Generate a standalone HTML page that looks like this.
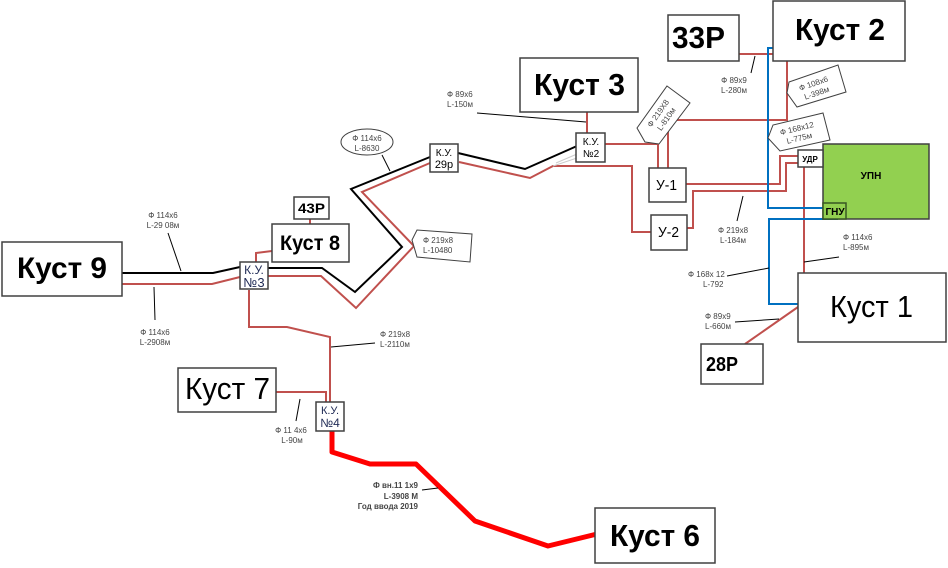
<!DOCTYPE html>
<html><head><meta charset="utf-8"><style>
html,body{margin:0;padding:0;background:#fff;}
svg{display:block;}
text{font-family:"Liberation Sans","DejaVu Sans",sans-serif;}
.s{font-size:8px;fill:#444;}
.b{fill:#fff;stroke:#404040;stroke-width:1.5;}
.r{fill:none;stroke:#c0504d;stroke-width:2;}
.k{fill:none;stroke:#000;stroke-width:2;}
.bl{fill:none;stroke:#0070c0;stroke-width:2;}
.l{fill:none;stroke:#000;stroke-width:1;}
</style></head><body>
<svg width="948" height="568" viewBox="0 0 948 568" xmlns="http://www.w3.org/2000/svg">
<!-- red lines -->
<polyline class="r" points="739,54 773,54"/>
<polyline class="r" points="787,61 787,120 668,120 668,168"/>
<polyline class="r" points="605,144 658,144 658,168"/>
<polyline class="r" points="587,112 587,133"/>
<polyline class="r" points="459,162 530,178 553,166 632,166 632,232 651,232"/>
<polyline class="r" points="430,163 362,192 414,246 356,308 321,276 268,276"/>
<polyline class="r" points="240,277 212,284 122,284"/>
<polyline class="r" points="272,251 256,253 256,262"/>
<polyline class="r" points="310,219 310,224"/>
<polyline class="r" points="249,290 249,327 287,327 330,337 330,402"/>
<polyline class="r" points="276,392 326,392 326,402"/>
<polyline class="r" points="686,184 780,184 780,156 798,156"/>
<polyline class="r" points="687,228 693,228 693,191 786,191 786,163 798,163"/>
<polyline class="r" points="804,167 804,273"/>
<polyline class="r" points="798,307 745,344"/>
<!-- faint -->
<polyline fill="none" stroke="#ccc" stroke-width="1" points="553,166 577,158"/>
<polyline fill="none" stroke="#ccc" stroke-width="1" points="556,163 577,154"/>
<!-- black lines -->
<polyline class="k" points="122,273 213,273 240,267"/>
<polyline class="k" points="268,268 322,268 355,292 402,247 351,189 430,157"/>
<polyline class="k" points="458,153 525,169 577,146"/>
<!-- blue -->
<polyline class="bl" points="774,48 768,48 768,208 823,208"/>
<polyline class="bl" points="838,219 769,219 769,304 798,304"/>
<!-- thick red -->
<polyline fill="none" stroke="#ff0000" stroke-width="5" stroke-linejoin="round" points="332,431 332,452 370,464 416,464 475,521 548,546 597,534"/>
<!-- leaders -->
<line class="l" x1="755" y1="56" x2="751" y2="73"/>
<line class="l" x1="477" y1="113" x2="586" y2="122"/>
<line class="l" x1="382" y1="155" x2="390" y2="171"/>
<line class="l" x1="168" y1="233" x2="181" y2="271"/>
<line class="l" x1="154" y1="287" x2="155" y2="320"/>
<line class="l" x1="331" y1="347" x2="375" y2="343"/>
<line class="l" x1="300" y1="399" x2="296" y2="421"/>
<line class="l" x1="422" y1="490" x2="438" y2="488"/>
<line class="l" x1="743" y1="196" x2="737" y2="221"/>
<line class="l" x1="804" y1="262" x2="839" y2="257"/>
<line class="l" x1="727" y1="276" x2="769" y2="268"/>
<line class="l" x1="735" y1="322" x2="779" y2="319"/>

<!-- boxes -->
<rect class="b" x="668" y="15" width="71" height="46"/>
<text x="672" y="48" font-size="31" font-weight="bold" textLength="53" lengthAdjust="spacingAndGlyphs">33Р</text>
<rect class="b" x="773" y="1" width="132" height="60"/>
<text x="795" y="40" font-size="31" font-weight="bold" textLength="90" lengthAdjust="spacingAndGlyphs">Куст 2</text>
<rect class="b" x="520" y="58" width="118" height="54"/>
<text x="534" y="95" font-size="31" font-weight="bold" textLength="91" lengthAdjust="spacingAndGlyphs">Куст 3</text>
<rect class="b" x="576" y="133" width="29" height="29"/>
<text x="591" y="145" font-size="10" text-anchor="middle">К.У.</text>
<text x="591" y="157" font-size="10" text-anchor="middle">№2</text>
<rect class="b" x="430" y="144" width="28" height="28"/>
<text x="444" y="156" font-size="10" text-anchor="middle">К.У.</text>
<text x="444" y="168" font-size="11" text-anchor="middle">29р</text>
<rect class="b" x="649" y="168" width="37" height="34"/>
<text x="656" y="190" font-size="15" textLength="21" lengthAdjust="spacingAndGlyphs">У-1</text>
<rect class="b" x="651" y="215" width="36" height="35"/>
<text x="658" y="237" font-size="15" textLength="21" lengthAdjust="spacingAndGlyphs">У-2</text>
<rect x="823" y="144" width="106" height="75" fill="#92d050" stroke="#404040" stroke-width="1.5"/>
<text x="871" y="179" font-size="10" font-weight="bold" text-anchor="middle">УПН</text>
<rect x="823" y="203" width="23" height="16" fill="#92d050" stroke="#385723" stroke-width="1.5"/>
<text x="835" y="215" font-size="10" font-weight="bold" text-anchor="middle">ГНУ</text>
<rect class="b" x="798" y="150" width="25" height="17"/>
<text x="810" y="162" font-size="8" font-weight="bold" text-anchor="middle">УДР</text>
<rect class="b" x="2" y="242" width="120" height="54"/>
<text x="17" y="278" font-size="30" font-weight="bold" textLength="90" lengthAdjust="spacingAndGlyphs">Куст 9</text>
<rect class="b" x="240" y="262" width="28" height="27"/>
<text x="254" y="274" font-size="12" fill="#1f2a55" text-anchor="middle">К.У.</text>
<text x="254" y="287" font-size="13" fill="#1f2a55" text-anchor="middle">№3</text>
<rect class="b" x="294" y="197" width="35" height="22"/>
<text x="298" y="213" font-size="14" font-weight="bold" textLength="27" lengthAdjust="spacingAndGlyphs">43Р</text>
<rect class="b" x="272" y="224" width="77" height="38"/>
<text x="280" y="250" font-size="21" font-weight="bold" textLength="60" lengthAdjust="spacingAndGlyphs">Куст 8</text>
<rect class="b" x="178" y="368" width="98" height="44"/>
<text x="185" y="399" font-size="31" textLength="85" lengthAdjust="spacingAndGlyphs">Куст 7</text>
<rect class="b" x="316" y="402" width="28" height="29"/>
<text x="330" y="414" font-size="11" fill="#1f2a55" text-anchor="middle">К.У.</text>
<text x="330" y="427" font-size="12" fill="#1f2a55" text-anchor="middle">№4</text>
<rect class="b" x="595" y="508" width="120" height="55"/>
<text x="610" y="546" font-size="31" font-weight="bold" textLength="90" lengthAdjust="spacingAndGlyphs">Куст 6</text>
<rect class="b" x="798" y="273" width="148" height="69"/>
<text x="830" y="317" font-size="31" textLength="83" lengthAdjust="spacingAndGlyphs">Куст 1</text>
<rect class="b" x="701" y="344" width="62" height="40"/>
<text x="706" y="371" font-size="20" font-weight="bold" textLength="32" lengthAdjust="spacingAndGlyphs">28Р</text>

<!-- ellipse label -->
<ellipse cx="367" cy="142" rx="26" ry="13" fill="#fff" stroke="#404040" stroke-width="1"/>
<text class="s" x="367" y="141" text-anchor="middle" fill="#222">Ф 114х6</text>
<text class="s" x="367" y="151" text-anchor="middle" fill="#222">L-8630</text>

<!-- tags -->
<polygon points="412,240 417,230 472,234 470,262 417,257" fill="#fff" stroke="#404040" stroke-width="1"/>
<text class="s" x="423" y="243" fill="#222">Ф 219х8</text>
<text class="s" x="423" y="253" fill="#222">L-10480</text>

<polygon points="667,86 690,103 659,144 645,142 637,128" fill="#fff" stroke="#404040" stroke-width="1"/>
<g transform="translate(662,116) rotate(-55)">
<text class="s" x="0" y="-2" text-anchor="middle" fill="#222">Ф 219Х8</text>
<text class="s" x="0" y="8" text-anchor="middle" fill="#222">L-810м</text>
</g>

<polygon points="787,93 789,82 838,65 846,92 797,107" fill="#fff" stroke="#404040" stroke-width="1"/>
<g transform="translate(815,88) rotate(-19)">
<text class="s" x="0" y="-2" text-anchor="middle" fill="#222">Ф 108х6</text>
<text class="s" x="0" y="8" text-anchor="middle" fill="#222">L-398м</text>
</g>

<polygon points="768,138 773,125 823,113 830,140 780,151" fill="#fff" stroke="#404040" stroke-width="1"/>
<g transform="translate(798,133) rotate(-14)">
<text class="s" x="0" y="-2" text-anchor="middle" fill="#222">Ф 168х12</text>
<text class="s" x="0" y="8" text-anchor="middle" fill="#222">L-775м</text>
</g>

<!-- small labels -->
<text class="s" x="734" y="83" text-anchor="middle">Ф 89х9</text>
<text class="s" x="734" y="93" text-anchor="middle">L-280м</text>
<text class="s" x="447" y="97">Ф 89х6</text>
<text class="s" x="447" y="107">L-150м</text>
<text class="s" x="163" y="218" text-anchor="middle">Ф 114х6</text>
<text class="s" x="163" y="228" text-anchor="middle">L-29 08м</text>
<text class="s" x="155" y="335" text-anchor="middle">Ф 114х6</text>
<text class="s" x="155" y="345" text-anchor="middle">L-2908м</text>
<text class="s" x="380" y="337">Ф 219х8</text>
<text class="s" x="380" y="347">L-2110м</text>
<text class="s" x="291" y="433" text-anchor="middle">Ф 11 4х6</text>
<text class="s" x="292" y="443" text-anchor="middle">L-90м</text>
<text class="s" x="418" y="488" text-anchor="end" font-weight="bold" fill="#222">Ф вн.11 1х9</text>
<text class="s" x="418" y="499" text-anchor="end" font-weight="bold" fill="#222">L-3908 М</text>
<text class="s" x="418" y="509" text-anchor="end" font-weight="bold" fill="#222">Год ввода 2019</text>
<text class="s" x="733" y="233" text-anchor="middle">Ф 219х8</text>
<text class="s" x="733" y="243" text-anchor="middle">L-184м</text>
<text class="s" x="843" y="240">Ф 114х6</text>
<text class="s" x="843" y="250">L-895м</text>
<text class="s" x="688" y="277">Ф 168х 12</text>
<text class="s" x="703" y="287">L-792</text>
<text class="s" x="705" y="319">Ф 89х9</text>
<text class="s" x="705" y="329">L-660м</text>
</svg>
</body></html>
